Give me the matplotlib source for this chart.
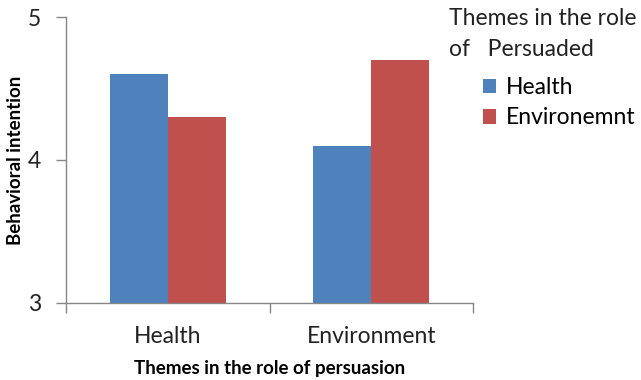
import numpy as np
import matplotlib.pyplot as plt
from matplotlib.ticker import FixedLocator

plt.rcParams['font.family'] = ['Lato', 'DejaVu Sans']

# persuasion themes on the x axis, persuaded themes as series
categories = ["Health", "Environment"]
series_names = ["Health", "Environemnt"]
health_vals = [4.6, 4.1]
environment_vals = [4.3, 4.7]

colors = ["#4F81BD", "#C0504D"]
axis_grey = "#868686"
text_col = "#222222"

fig = plt.figure(figsize=(6.41, 3.80), dpi=100)
ax = fig.add_axes([0.103, 0.203, 0.635, 0.752])

x = np.arange(len(categories))
w = 0.285
ax.bar(x - w/2, health_vals, width=w, color=colors[0], label=series_names[0])
ax.bar(x + w/2, environment_vals, width=w, color=colors[1], label=series_names[1])

ax.set_xlim(-0.5, len(categories) - 0.5)
ax.set_ylim(3, 5)
ax.set_yticks([3, 4, 5])

# category labels centred, tick marks on the category boundaries
ax.set_xticks(x)
ax.set_xticklabels(categories)
ax.xaxis.set_minor_locator(FixedLocator(np.arange(len(categories) + 1) - 0.5))
ax.tick_params(axis='x', which='major', length=0, pad=17, labelsize=16.5, colors=text_col)
ax.tick_params(axis='x', which='minor', length=7, width=1, color=axis_grey, direction='out')
ax.tick_params(axis='y', length=7, width=1, color=axis_grey, labelsize=16.5, labelcolor=text_col, pad=11)

for side in ['top', 'right']:
    ax.spines[side].set_visible(False)
for side in ['left', 'bottom']:
    ax.spines[side].set_color(axis_grey)
    ax.spines[side].set_linewidth(1)

ax.set_ylabel("Behavioral intention", fontsize=13.5, fontweight='bold', labelpad=3)
ax.set_xlabel("Themes in the role of persuasion", fontsize=13.5, fontweight='bold', labelpad=9)

fig.text(0.70, 0.978, "Themes in the role\nof   Persuaded", fontsize=16.5,
         ha='left', va='top', color=text_col, linespacing=1.55)
ax.legend(loc='upper left', bbox_to_anchor=(0.753, 0.797), bbox_transform=fig.transFigure,
          frameon=False, fontsize=16.5, handlelength=0.6, handleheight=0.6,
          handletextpad=0.4, labelspacing=0.4, borderpad=0, borderaxespad=0)

fig.savefig("out.png", dpi=100)
